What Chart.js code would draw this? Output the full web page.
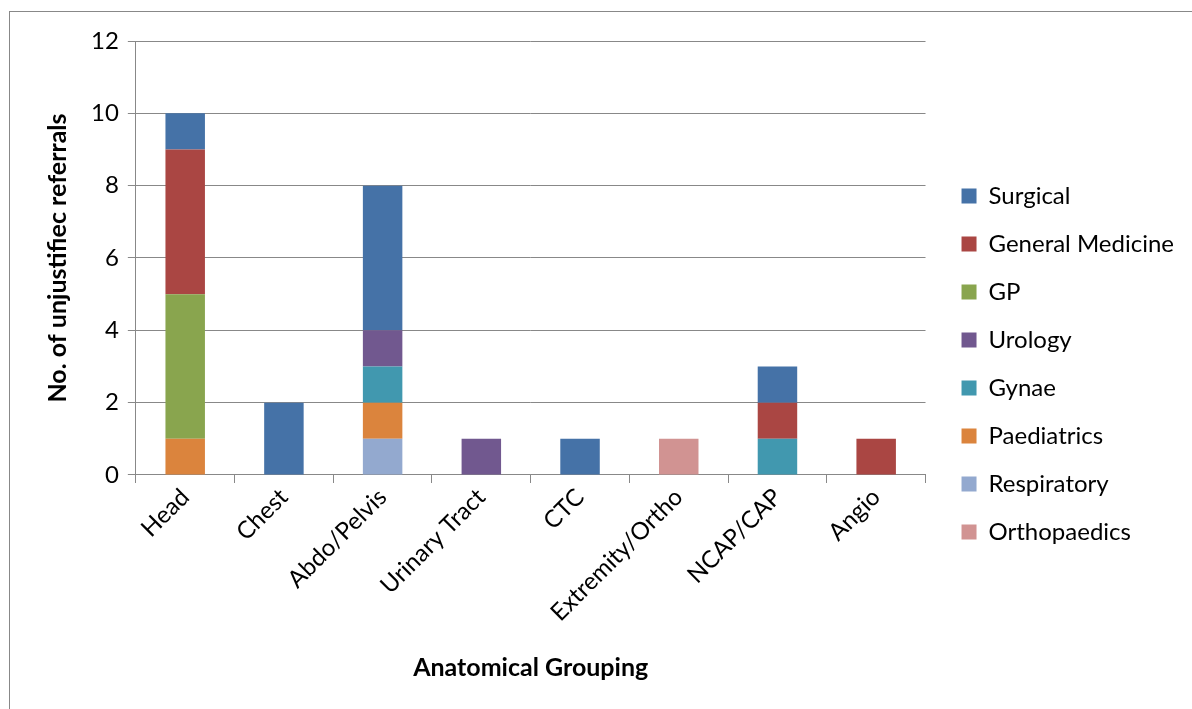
<!DOCTYPE html>
<html>
<head>
<meta charset="utf-8">
<script src="https://cdn.jsdelivr.net/npm/chart.js@4"></script>
<style>
  html, body { margin: 0; padding: 0; background: #fff; }
  #frame { position: absolute; left: 9px; top: 11px; width: 1200px; height: 720px; border: 1px solid #888; box-sizing: border-box; }
  #wrap { position: absolute; left: 0; top: 0; width: 1192px; height: 709px; }
</style>
</head>
<body>
<div id="frame"></div>
<div id="wrap"><canvas id="referralsChart" width="1192" height="709"></canvas></div>
<script>
const groupings = ["Head", "Chest", "Abdo/Pelvis", "Urinary Tract", "CTC", "Extremity/Ortho", "NCAP/CAP", "Angio"];

// bottom of the stack first
const orthopaedics = [0, 0, 0, 0, 0, 1, 0, 0];
const respiratory  = [0, 0, 1, 0, 0, 0, 0, 0];
const paediatrics  = [1, 0, 1, 0, 0, 0, 0, 0];
const gynae        = [0, 0, 1, 0, 0, 0, 1, 0];
const urology      = [0, 0, 1, 1, 0, 0, 0, 0];
const gp           = [4, 0, 0, 0, 0, 0, 0, 0];
const generalMed   = [4, 0, 0, 0, 0, 0, 1, 1];
const surgical     = [1, 2, 4, 0, 1, 0, 1, 0];

const yTicks = [0, 2, 4, 6, 8, 10, 12];

const font = "Lato, 'Open Sans', sans-serif";

// leave some blank space between the plot and the legend
const legendGap = {
    id: "legendGap",
    beforeLayout(chart) {
        const legend = chart.legend;
        if (!legend || legend._gapPatched) return;
        const fit = legend.fit;
        legend.fit = function() { fit.call(this); this.width += 12; };
        legend._gapPatched = true;
    },
    afterLayout(chart) {
        if (chart.legend) chart.legend.left += 12;
    }
};

document.addEventListener("DOMContentLoaded", function() {
    const ctx = document.getElementById("referralsChart").getContext("2d");

    const series = [
        { label: "Orthopaedics", data: orthopaedics, color: "#D19392" },
        { label: "Respiratory", data: respiratory, color: "#93A9CF" },
        { label: "Paediatrics", data: paediatrics, color: "#DB843D" },
        { label: "Gynae", data: gynae, color: "#4198AF" },
        { label: "Urology", data: urology, color: "#71588F" },
        { label: "GP", data: gp, color: "#89A54E" },
        { label: "General Medicine", data: generalMed, color: "#AA4643" },
        { label: "Surgical", data: surgical, color: "#4572A7" }
    ];

    new Chart(ctx, {
        type: "bar",
        data: {
            labels: groupings,
            datasets: series.map(s => ({
                label: s.label,
                data: s.data,
                backgroundColor: s.color,
                borderWidth: 0,
                barPercentage: 0.4,
                categoryPercentage: 1
            }))
        },
        options: {
            responsive: false,
            animation: false,
            layout: { padding: { left: 39, top: 41, right: 8, bottom: 22 } },
            scales: {
                x: {
                    stacked: true,
                    grid: { drawOnChartArea: false, drawTicks: true, tickLength: 8, color: "#888" },
                    border: { color: "#888" },
                    ticks: { color: "#000", font: { family: font, size: 24 }, maxRotation: 45, minRotation: 45, padding: 0 },
                    title: { display: true, text: "Anatomical Grouping", color: "#000", font: { family: font, size: 25, weight: "bold" }, padding: { top: 26 } }
                },
                y: {
                    stacked: true,
                    min: 0,
                    max: 12,
                    afterBuildTicks: function(axis) { axis.ticks = yTicks.map(v => ({ value: v })); },
                    grid: { color: "#888", tickLength: 8 },
                    border: { color: "#888" },
                    ticks: { color: "#000", font: { family: font, size: 24 }, padding: 9 },
                    title: { display: true, text: "No. of unjustifiec referrals", color: "#000", font: { family: font, size: 25, weight: "bold" }, padding: { bottom: 9 } }
                }
            },
            plugins: {
                tooltip: { enabled: false },
                legend: {
                    position: "right",
                    reverse: true,
                    labels: {
                        color: "#000",
                        font: { family: font, size: 24 },
                        boxWidth: 15,
                        boxHeight: 15,
                        padding: 24
                    }
                }
            }
        },
        plugins: [legendGap]
    });
});
</script>
</body>
</html>
